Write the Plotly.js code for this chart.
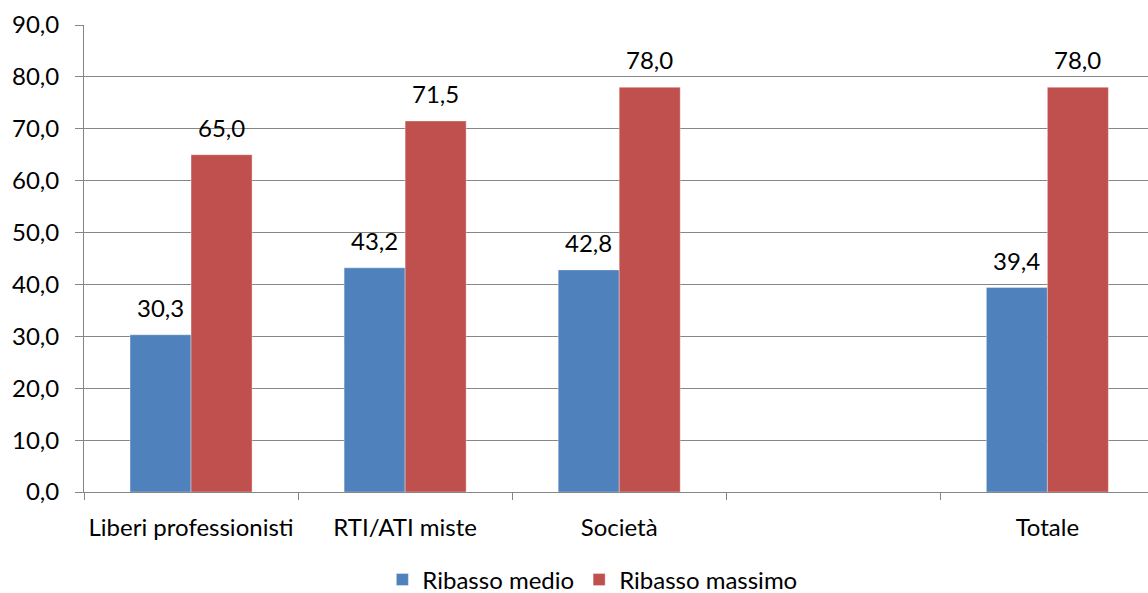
<!DOCTYPE html>
<html>
<head>
<meta charset="utf-8">
<script src="https://cdn.plot.ly/plotly-3.0.1.min.js"></script>
<style>html,body{margin:0;padding:0;background:#fff;}#chart{width:1148px;height:593px;}</style>
</head>
<body>
<div id="chart"></div>
<script>
const categories = ["Liberi professionisti", "RTI/ATI miste", "Società", " ", "Totale"];
const ribassoMedio = [30.3, 43.2, 42.8, null, 39.4];
const ribassoMassimo = [65.0, 71.5, 78.0, null, 78.0];
const seriesNames = ["Ribasso medio", "Ribasso massimo"];
const yTicks = [0, 10, 20, 30, 40, 50, 60, 70, 80, 90];

const FONT = "Lato, 'Open Sans', sans-serif";
const FS = 24;
const colors = ["#4F81BD", "#C0504D"];

const traces = [ribassoMedio, ribassoMassimo].map((vals, i) => ({
  type: "bar",
  name: seriesNames[i],
  x: categories,
  y: vals,
  marker: {color: colors[i], line: {color: "rgba(255,255,255,0.35)", width: 1}},
  hoverinfo: "skip"
}));

const fmt = v => v.toFixed(1).replace(".", ",");
const annotations = [];
[ribassoMedio, ribassoMassimo].forEach((vals, i) => {
  vals.forEach((v, j) => {
    if (v === null) return;
    annotations.push({
      xref: "x", yref: "y", x: categories[j], y: v,
      text: fmt(v), showarrow: false,
      xanchor: "center", yanchor: "bottom",
      xshift: i === 0 ? -30.5 : 30.5, yshift: 11,
      font: {family: FONT, size: FS, color: "#000"}
    });
  });
});

const layout = {
  width: 1148, height: 593,
  margin: {l: 84, r: 0, t: 25, b: 101},
  paper_bgcolor: "#fff", plot_bgcolor: "#fff",
  font: {family: FONT, size: FS, color: "#000"},
  separators: ",.",
  barmode: "group",
  bargap: 0.43, bargroupgap: 0,
  showlegend: true,
  legend: {
    orientation: "h", xref: "container", yref: "container",
    x: 0.516, xanchor: "center", y: 0.022, yanchor: "middle",
    font: {family: FONT, size: FS, color: "#000"},
    itemwidth: 30, tracegroupgap: 0
  },
  xaxis: {
    type: "category",
    categoryorder: "array", categoryarray: categories,
    range: [-0.5, 4.47],
    showline: true, linecolor: "#868686", linewidth: 1,
    ticks: "outside", tickson: "boundaries", ticklen: 7, tickcolor: "#868686",
    ticklabelstandoff: 14,
    showgrid: false, zeroline: false,
    tickfont: {family: FONT, size: FS, color: "#000"}
  },
  yaxis: {
    range: [0, 90],
    tickvals: yTicks, tickformat: ".1f",
    showline: true, linecolor: "#868686", linewidth: 1,
    ticks: "outside", ticklen: 8, tickcolor: "#868686",
    ticklabelstandoff: 11,
    showgrid: true, gridcolor: "#868686", gridwidth: 1,
    zeroline: false,
    tickfont: {family: FONT, size: FS, color: "#000"}
  },
  annotations: annotations
};

Plotly.newPlot("chart", traces, layout, {displayModeBar: false, staticPlot: true});
</script>
</body>
</html>
